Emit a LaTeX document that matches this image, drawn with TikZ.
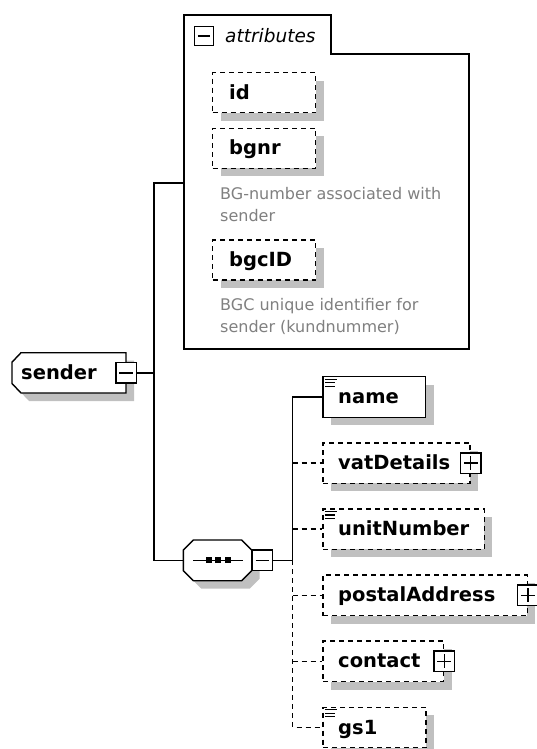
\documentclass[tikz,border=0pt]{standalone}
\usepackage{fontspec}
\setmainfont{DejaVu Sans}
\usetikzlibrary{shadows}
\definecolor{shadowgray}{HTML}{C0C0C0}
\definecolor{descgray}{HTML}{808080}
\tikzset{
  ln/.style={line width=1.4bp},
  dsh/.style={line width=1.4bp, dash pattern=on 5bp off 4bp},
  shadowed/.style={drop shadow={shadow xshift=8bp, shadow yshift=-8bp, fill=shadowgray, opacity=1}},
  ebox/.style={rectangle, draw, fill=white, ln, inner sep=0pt, anchor=north west, minimum height=40.5bp, shadowed},
  dbox/.style={ebox, dsh},
  pm/.style={rectangle, draw, fill=white, ln, inner sep=0pt, minimum size=20.5bp},
  nm/.style={anchor=base west, inner sep=0pt, font=\fontsize{19.5bp}{23bp}\selectfont\bfseries},
  ds/.style={anchor=base west, inner sep=0pt, text=descgray, font=\fontsize{16bp}{20bp}\selectfont},
  ghost/.style={rectangle, inner sep=0pt, draw=none},
}
\newcommand\minusmark[1]{\draw[ln] ([xshift=4bp]#1.west) -- ([xshift=-4bp]#1.east);}
\newcommand\plusmark[1]{\minusmark{#1}\draw[ln] ([yshift=-4bp]#1.north) -- ([yshift=4bp]#1.south);}
\newcommand\eqicon[1]{\draw[line width=1.1bp] ([shift={(3,3.3)}]#1.north west) -- ++(11.5,0) ([shift={(3,6.8)}]#1.north west) -- ++(9.5,0) ([shift={(3,10.3)}]#1.north west) -- ++(9.5,0);}
\begin{document}
\begin{tikzpicture}[x=1bp,y=-1bp]
\useasboundingbox (0,0) rectangle (537,749);
\clip (0,0) rectangle (537,749);

% attributes group
\draw[ln, fill=white] (184,15) -- (331,15) -- (331,54) -- (469,54) -- (469,349) -- (184,349) -- cycle;
\coordinate (attrIn) at (184,183);
\node[pm, minimum size=19bp] (am) at (204,36) {};
\minusmark{am}
\node[anchor=base west, inner sep=0pt, font=\fontsize{18.5bp}{22bp}\selectfont\itshape] (attrT) at (225,42.7) {attributes};

\node[dbox, minimum width=103bp, minimum height=40bp] (id) at (212,72) {};
\node[nm] (idT) at (229,99) {id};
\node[dbox, minimum width=103bp, minimum height=40bp] (bgnr) at (212,127.5) {};
\node[nm] (bgnrT) at (229,154.5) {bgnr};
\node[ds] (d1a) at (220,199.5) {BG-number associated with};
\node[ds] (d1b) at (220,221) {sender};
\node[dbox, minimum width=103bp, minimum height=40bp] (bgcid) at (212,239.3) {};
\node[nm] (bgcidT) at (229,266.5) {bgcID};
\node[ds] (d2a) at (220,310.5) {BGC unique identifier for};
\node[ds] (d2b) at (220,332) {sender (kundnummer)};

% sender (bevelled on the left)
\node[ghost, minimum width=114bp, minimum height=40.3bp] (sender) at (69,372.8) {};
\fill[shadowgray] (29,360.7) -- (134,360.7) -- (134,401) -- (29,401) -- (20,391.5) -- (20,370.2) -- cycle;
\draw[ln, fill=white] (21,352.7) -- (126,352.7) -- (126,393) -- (21,393) -- (12,383.5) -- (12,362.2) -- cycle;
\node[nm] (senderT) at (21,379.5) {sender};
\node[pm] (sm) at (126.3,372.8) {};
\minusmark{sm}

% sequence compositor (octagon)
\node[ghost, minimum width=68.4bp, minimum height=40.7bp] (seq) at (217.5,560.4) {};
\fill[shadowgray] (201.3,548) -- (249.7,548) -- (259.7,558) -- (259.7,578.7) -- (249.7,588.7) -- (201.3,588.7) -- (191.3,578.7) -- (191.3,558) -- cycle;
\draw[ln, fill=white] (193.3,540) -- (241.7,540) -- (251.7,550) -- (251.7,570.7) -- (241.7,580.7) -- (193.3,580.7) -- (183.3,570.7) -- (183.3,550) -- cycle;
\draw[ln] (193.3,560.4) -- (242.7,560.4);
\fill (205.5,557.4) rectangle +(6,6);
\fill (215.3,557.4) rectangle +(6,6);
\fill (225.3,557.4) rectangle +(6,6);
\node[pm] (qm) at (262.5,560.4) {};
\minusmark{qm}

% children
\node[ebox, minimum width=102.7bp] (name) at (322.3,376) {};
\eqicon{name}
\node[nm] (nameT) at (338,403.5) {name};

\node[dbox, minimum width=147bp] (vat) at (322.3,442.1) {};
\node[nm] (vatT) at (338,469.6) {vatDetails};
\node[pm] (vatp) at (vat.east) {};
\plusmark{vatp}

\node[dbox, minimum width=161.3bp] (unit) at (322.3,508.2) {};
\eqicon{unit}
\node[nm] (unitT) at (338,535.7) {unitNumber};

\node[dbox, minimum width=204.2bp] (postal) at (322.3,574.3) {};
\node[nm] (postalT) at (338,601.8) {postalAddress};
\node[pm] (postalp) at (postal.east) {};
\plusmark{postalp}

\node[dbox, minimum width=120.7bp] (contact) at (322.3,640.4) {};
\node[nm] (contactT) at (338,667.9) {contact};
\node[pm] (contactp) at (contact.east) {};
\plusmark{contactp}

\node[dbox, minimum width=103bp] (gs1) at (322.3,706.5) {};
\eqicon{gs1}
\node[nm] (gs1T) at (338,734) {gs1};

% connectors
\coordinate (j1) at (154,372.8);
\coordinate (j2) at (292.7,560.4);
\draw[ln] (sm.east) -- (j1) |- (attrIn);
\draw[ln] (j1) |- (seq.west);
\draw[ln] (qm.east) -- (j2) |- (name.west);
\draw[dsh] (j2) |- (gs1.west);
\draw[dsh] (vat.west -| j2) -- (vat.west);
\draw[dsh] (unit.west -| j2) -- (unit.west);
\draw[dsh] (postal.west -| j2) -- (postal.west);
\draw[dsh] (contact.west -| j2) -- (contact.west);
\end{tikzpicture}
\end{document}
